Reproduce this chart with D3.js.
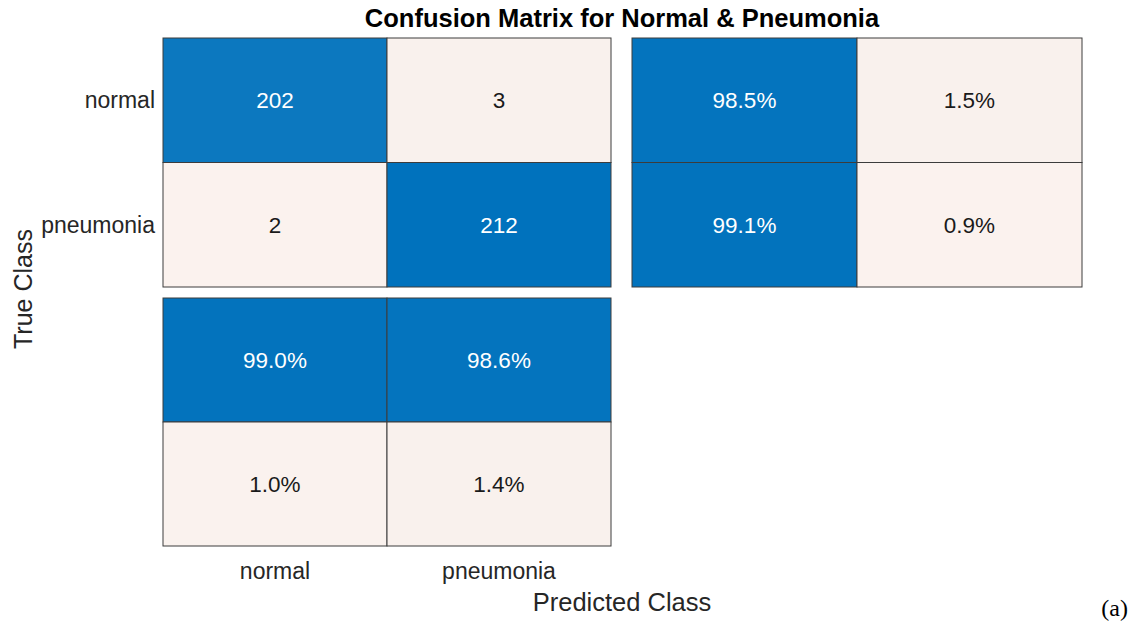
<!DOCTYPE html>
<html>
<head>
<meta charset="utf-8">
<script src="https://cdn.jsdelivr.net/npm/d3@7"></script>
<style>
  body { margin: 0; background: #fff; }
</style>
</head>
<body>
<svg id="chart" width="1136" height="626" font-family="'Liberation Sans', Arial, Helvetica, sans-serif"></svg>
<script>
var classes = ['normal', 'pneumonia'];
// counts[true][predicted]
var counts = [[202, 3], [2, 212]];
// row summary: correct / incorrect per true class
var rowSummary = [[98.5, 1.5], [99.1, 0.9]];
// column summary: correct row, incorrect row, per predicted class
var colSummary = [[99.0, 98.6], [1.0, 1.4]];

var svg = d3.select('#chart'),
    light = '#fdf3ee',
    blue = '#0072bd',
    stroke = '#3c3c3c';

var color = d3.interpolateRgb(light, blue);

var x = d3.scaleBand().domain([0, 1]).range([163, 611]);
var y = d3.scaleBand().domain([0, 1]).range([38, 287]);
var xr = d3.scaleBand().domain([0, 1]).range([632, 1082]);
var yb = d3.scaleBand().domain([0, 1]).range([298, 546]);

var maxCount = d3.max(counts, function (r) { return d3.max(r); });

function drawPanel(cells, xs, ys, norm, fmt) {
    var g = svg.append('g');
    var flat = [];
    cells.forEach(function (row, i) {
        row.forEach(function (v, j) { flat.push({ i: i, j: j, v: v }); });
    });
    var cell = g.selectAll('g').data(flat).enter().append('g');
    cell.append('rect')
        .attr('x', function (d) { return xs(d.j); })
        .attr('y', function (d) { return ys(d.i); })
        .attr('width', xs.bandwidth())
        .attr('height', ys.bandwidth())
        .attr('fill', function (d) { return color(d.v / norm); })
        .attr('stroke', stroke)
        .attr('stroke-width', 1);
    cell.append('text')
        .attr('x', function (d) { return xs(d.j) + xs.bandwidth() / 2; })
        .attr('y', function (d) { return ys(d.i) + ys.bandwidth() / 2; })
        .attr('dy', '0.35em')
        .attr('text-anchor', 'middle')
        .attr('font-size', 22.5)
        .attr('fill', function (d) { return d.v / norm > 0.5 ? '#fff' : '#1a1a1a'; })
        .text(function (d) { return fmt(d.v); });
}

drawPanel(counts, x, y, maxCount, function (v) { return v; });
drawPanel(rowSummary, xr, y, 100, function (v) { return v.toFixed(1) + '%'; });
drawPanel(colSummary, x, yb, 100, function (v) { return v.toFixed(1) + '%'; });

// tick labels
svg.selectAll('.ytick').data(classes).enter().append('text')
    .attr('x', 155)
    .attr('y', function (d, i) { return y(i) + y.bandwidth() / 2; })
    .attr('dy', '0.35em')
    .attr('text-anchor', 'end')
    .attr('font-size', 23)
    .attr('fill', '#262626')
    .text(function (d) { return d; });

svg.selectAll('.xtick').data(classes).enter().append('text')
    .attr('x', function (d, i) { return x(i) + x.bandwidth() / 2; })
    .attr('y', 571)
    .attr('dy', '0.35em')
    .attr('text-anchor', 'middle')
    .attr('font-size', 23)
    .attr('fill', '#262626')
    .text(function (d) { return d; });

// axis labels and title
svg.append('text')
    .attr('x', 622).attr('y', 602)
    .attr('dy', '0.35em')
    .attr('text-anchor', 'middle')
    .attr('font-size', 25.5)
    .attr('fill', '#262626')
    .text('Predicted Class');

svg.append('text')
    .attr('transform', 'translate(23,289) rotate(-90)')
    .attr('dy', '0.35em')
    .attr('text-anchor', 'middle')
    .attr('font-size', 25)
    .attr('fill', '#262626')
    .text('True Class');

svg.append('text')
    .attr('x', 622).attr('y', 18)
    .attr('dy', '0.35em')
    .attr('text-anchor', 'middle')
    .attr('font-size', 25.5)
    .attr('font-weight', 'bold')
    .attr('fill', '#000')
    .text('Confusion Matrix for Normal & Pneumonia');

svg.append('text')
    .attr('x', 1128).attr('y', 608)
    .attr('dy', '0.35em')
    .attr('text-anchor', 'end')
    .attr('font-size', 24)
    .attr('font-family', "'Liberation Serif', 'DejaVu Serif', serif")
    .attr('fill', '#000')
    .text('(a)');
</script>
</body>
</html>
